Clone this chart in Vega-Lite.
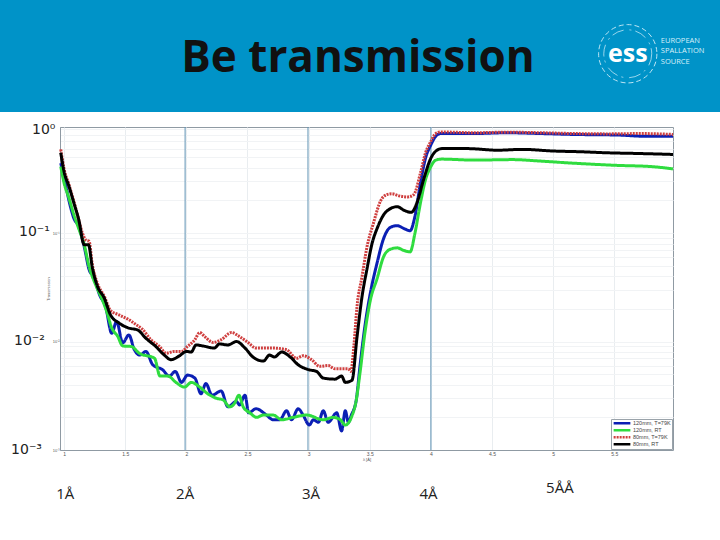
{
"$schema":"https://vega.github.io/schema/vega-lite/v6.json",
"width":613,"height":323,"autosize":"none",
"padding":{"left":60,"top":127,"right":47,"bottom":90},
"background":"#ffffff",
"config":{"view":{"stroke":"#8f9aa3","strokeWidth":1}},
"datasets":{
"curves":[
{"s":"120mm, T=79K","x":0.973,"y":0.44},{"s":"120mm, T=79K","x":1,"y":0.33},{"s":"120mm, T=79K","x":1.04,"y":0.2},{"s":"120mm, T=79K","x":1.08,"y":0.137},{"s":"120mm, T=79K","x":1.12,"y":0.115},{"s":"120mm, T=79K","x":1.165,"y":0.075},{"s":"120mm, T=79K","x":1.205,"y":0.046},{"s":"120mm, T=79K","x":1.245,"y":0.039},{"s":"120mm, T=79K","x":1.29,"y":0.027},{"s":"120mm, T=79K","x":1.34,"y":0.021},{"s":"120mm, T=79K","x":1.39,"y":0.0119},{"s":"120mm, T=79K","x":1.43,"y":0.0153},{"s":"120mm, T=79K","x":1.48,"y":0.0097},{"s":"120mm, T=79K","x":1.53,"y":0.0115},{"s":"120mm, T=79K","x":1.575,"y":0.0084},{"s":"120mm, T=79K","x":1.62,"y":0.0075},{"s":"120mm, T=79K","x":1.67,"y":0.0081},{"s":"120mm, T=79K","x":1.725,"y":0.0061},{"s":"120mm, T=79K","x":1.805,"y":0.0055},{"s":"120mm, T=79K","x":1.86,"y":0.0048},{"s":"120mm, T=79K","x":1.91,"y":0.0053},{"s":"120mm, T=79K","x":1.96,"y":0.0042},{"s":"120mm, T=79K","x":2.01,"y":0.0049},{"s":"120mm, T=79K","x":2.07,"y":0.0046},{"s":"120mm, T=79K","x":2.12,"y":0.0033},{"s":"120mm, T=79K","x":2.16,"y":0.0041},{"s":"120mm, T=79K","x":2.21,"y":0.0032},{"s":"120mm, T=79K","x":2.285,"y":0.0035},{"s":"120mm, T=79K","x":2.34,"y":0.0025},{"s":"120mm, T=79K","x":2.41,"y":0.0028},{"s":"120mm, T=79K","x":2.435,"y":0.0026},{"s":"120mm, T=79K","x":2.48,"y":0.0032},{"s":"120mm, T=79K","x":2.51,"y":0.0022},{"s":"120mm, T=79K","x":2.57,"y":0.0024},{"s":"120mm, T=79K","x":2.655,"y":0.0021},{"s":"120mm, T=79K","x":2.71,"y":0.0019},{"s":"120mm, T=79K","x":2.765,"y":0.0019},{"s":"120mm, T=79K","x":2.82,"y":0.0023},{"s":"120mm, T=79K","x":2.86,"y":0.0019},{"s":"120mm, T=79K","x":2.915,"y":0.0024},{"s":"120mm, T=79K","x":2.955,"y":0.0021},{"s":"120mm, T=79K","x":3.005,"y":0.0017},{"s":"120mm, T=79K","x":3.04,"y":0.0019},{"s":"120mm, T=79K","x":3.08,"y":0.0018},{"s":"120mm, T=79K","x":3.12,"y":0.0023},{"s":"120mm, T=79K","x":3.16,"y":0.0018},{"s":"120mm, T=79K","x":3.23,"y":0.0022},{"s":"120mm, T=79K","x":3.27,"y":0.0015},{"s":"120mm, T=79K","x":3.3,"y":0.0023},{"s":"120mm, T=79K","x":3.325,"y":0.0018},{"s":"120mm, T=79K","x":3.35,"y":0.0021},{"s":"120mm, T=79K","x":3.39,"y":0.0029},{"s":"120mm, T=79K","x":3.42,"y":0.0059},{"s":"120mm, T=79K","x":3.46,"y":0.0137},{"s":"120mm, T=79K","x":3.505,"y":0.028},{"s":"120mm, T=79K","x":3.56,"y":0.053},{"s":"120mm, T=79K","x":3.615,"y":0.09},{"s":"120mm, T=79K","x":3.67,"y":0.113},{"s":"120mm, T=79K","x":3.725,"y":0.117},{"s":"120mm, T=79K","x":3.78,"y":0.11},{"s":"120mm, T=79K","x":3.83,"y":0.105},{"s":"120mm, T=79K","x":3.87,"y":0.143},{"s":"120mm, T=79K","x":3.915,"y":0.29},{"s":"120mm, T=79K","x":3.956,"y":0.49},{"s":"120mm, T=79K","x":4,"y":0.65},{"s":"120mm, T=79K","x":4.04,"y":0.78},{"s":"120mm, T=79K","x":4.08,"y":0.826},{"s":"120mm, T=79K","x":4.35,"y":0.826},{"s":"120mm, T=79K","x":4.625,"y":0.84},{"s":"120mm, T=79K","x":4.9,"y":0.826},{"s":"120mm, T=79K","x":5.17,"y":0.81},{"s":"120mm, T=79K","x":5.53,"y":0.8},{"s":"120mm, T=79K","x":5.745,"y":0.78},{"s":"120mm, T=79K","x":5.98,"y":0.78},
{"s":"120mm, RT","x":0.973,"y":0.41},{"s":"120mm, RT","x":1,"y":0.29},{"s":"120mm, RT","x":1.04,"y":0.21},{"s":"120mm, RT","x":1.08,"y":0.148},{"s":"120mm, RT","x":1.12,"y":0.11},{"s":"120mm, RT","x":1.165,"y":0.078},{"s":"120mm, RT","x":1.205,"y":0.049},{"s":"120mm, RT","x":1.26,"y":0.033},{"s":"120mm, RT","x":1.315,"y":0.024},{"s":"120mm, RT","x":1.355,"y":0.018},{"s":"120mm, RT","x":1.385,"y":0.0138},{"s":"120mm, RT","x":1.44,"y":0.0111},{"s":"120mm, RT","x":1.48,"y":0.0091},{"s":"120mm, RT","x":1.55,"y":0.009},{"s":"120mm, RT","x":1.615,"y":0.0078},{"s":"120mm, RT","x":1.74,"y":0.007},{"s":"120mm, RT","x":1.785,"y":0.0048},{"s":"120mm, RT","x":1.85,"y":0.0048},{"s":"120mm, RT","x":1.915,"y":0.0042},{"s":"120mm, RT","x":1.985,"y":0.0038},{"s":"120mm, RT","x":2.04,"y":0.0042},{"s":"120mm, RT","x":2.11,"y":0.0038},{"s":"120mm, RT","x":2.175,"y":0.0033},{"s":"120mm, RT","x":2.245,"y":0.003},{"s":"120mm, RT","x":2.3,"y":0.0029},{"s":"120mm, RT","x":2.355,"y":0.0025},{"s":"120mm, RT","x":2.395,"y":0.0027},{"s":"120mm, RT","x":2.43,"y":0.0032},{"s":"120mm, RT","x":2.465,"y":0.0025},{"s":"120mm, RT","x":2.52,"y":0.0022},{"s":"120mm, RT","x":2.575,"y":0.002},{"s":"120mm, RT","x":2.63,"y":0.0021},{"s":"120mm, RT","x":2.71,"y":0.0021},{"s":"120mm, RT","x":2.78,"y":0.0019},{"s":"120mm, RT","x":2.875,"y":0.002},{"s":"120mm, RT","x":2.985,"y":0.0021},{"s":"120mm, RT","x":3.12,"y":0.0019},{"s":"120mm, RT","x":3.2,"y":0.002},{"s":"120mm, RT","x":3.26,"y":0.0019},{"s":"120mm, RT","x":3.3,"y":0.0017},{"s":"120mm, RT","x":3.35,"y":0.002},{"s":"120mm, RT","x":3.39,"y":0.0029},{"s":"120mm, RT","x":3.42,"y":0.0051},{"s":"120mm, RT","x":3.46,"y":0.0119},{"s":"120mm, RT","x":3.505,"y":0.024},{"s":"120mm, RT","x":3.56,"y":0.038},{"s":"120mm, RT","x":3.615,"y":0.061},{"s":"120mm, RT","x":3.67,"y":0.071},{"s":"120mm, RT","x":3.725,"y":0.073},{"s":"120mm, RT","x":3.78,"y":0.069},{"s":"120mm, RT","x":3.83,"y":0.067},{"s":"120mm, RT","x":3.87,"y":0.1},{"s":"120mm, RT","x":3.915,"y":0.19},{"s":"120mm, RT","x":3.956,"y":0.31},{"s":"120mm, RT","x":4,"y":0.41},{"s":"120mm, RT","x":4.04,"y":0.47},{"s":"120mm, RT","x":4.09,"y":0.48},{"s":"120mm, RT","x":4.35,"y":0.47},{"s":"120mm, RT","x":4.67,"y":0.475},{"s":"120mm, RT","x":4.9,"y":0.46},{"s":"120mm, RT","x":5.17,"y":0.44},{"s":"120mm, RT","x":5.53,"y":0.42},{"s":"120mm, RT","x":5.8,"y":0.41},{"s":"120mm, RT","x":5.98,"y":0.39},
{"s":"80mm, T=79K","x":0.973,"y":0.59},{"s":"80mm, T=79K","x":1,"y":0.39},{"s":"80mm, T=79K","x":1.04,"y":0.28},{"s":"80mm, T=79K","x":1.08,"y":0.196},{"s":"80mm, T=79K","x":1.12,"y":0.133},{"s":"80mm, T=79K","x":1.15,"y":0.1},{"s":"80mm, T=79K","x":1.18,"y":0.086},{"s":"80mm, T=79K","x":1.205,"y":0.084},{"s":"80mm, T=79K","x":1.23,"y":0.052},{"s":"80mm, T=79K","x":1.27,"y":0.035},{"s":"80mm, T=79K","x":1.33,"y":0.026},{"s":"80mm, T=79K","x":1.38,"y":0.0193},{"s":"80mm, T=79K","x":1.45,"y":0.0176},{"s":"80mm, T=79K","x":1.53,"y":0.0159},{"s":"80mm, T=79K","x":1.59,"y":0.0143},{"s":"80mm, T=79K","x":1.64,"y":0.013},{"s":"80mm, T=79K","x":1.71,"y":0.0104},{"s":"80mm, T=79K","x":1.78,"y":0.009},{"s":"80mm, T=79K","x":1.835,"y":0.0078},{"s":"80mm, T=79K","x":1.9,"y":0.0081},{"s":"80mm, T=79K","x":1.96,"y":0.0081},{"s":"80mm, T=79K","x":2.01,"y":0.009},{"s":"80mm, T=79K","x":2.07,"y":0.0104},{"s":"80mm, T=79K","x":2.11,"y":0.0121},{"s":"80mm, T=79K","x":2.15,"y":0.0111},{"s":"80mm, T=79K","x":2.22,"y":0.0098},{"s":"80mm, T=79K","x":2.285,"y":0.0104},{"s":"80mm, T=79K","x":2.37,"y":0.0121},{"s":"80mm, T=79K","x":2.435,"y":0.0111},{"s":"80mm, T=79K","x":2.505,"y":0.0098},{"s":"80mm, T=79K","x":2.57,"y":0.0087},{"s":"80mm, T=79K","x":2.71,"y":0.0087},{"s":"80mm, T=79K","x":2.82,"y":0.0084},{"s":"80mm, T=79K","x":2.9,"y":0.007},{"s":"80mm, T=79K","x":2.955,"y":0.0074},{"s":"80mm, T=79K","x":3.025,"y":0.0068},{"s":"80mm, T=79K","x":3.09,"y":0.0059},{"s":"80mm, T=79K","x":3.16,"y":0.006},{"s":"80mm, T=79K","x":3.215,"y":0.0056},{"s":"80mm, T=79K","x":3.325,"y":0.0056},{"s":"80mm, T=79K","x":3.345,"y":0.0053},{"s":"80mm, T=79K","x":3.37,"y":0.009},{"s":"80mm, T=79K","x":3.396,"y":0.021},{"s":"80mm, T=79K","x":3.437,"y":0.0397},{"s":"80mm, T=79K","x":3.478,"y":0.075},{"s":"80mm, T=79K","x":3.53,"y":0.123},{"s":"80mm, T=79K","x":3.587,"y":0.196},{"s":"80mm, T=79K","x":3.64,"y":0.226},{"s":"80mm, T=79K","x":3.68,"y":0.23},{"s":"80mm, T=79K","x":3.74,"y":0.22},{"s":"80mm, T=79K","x":3.81,"y":0.215},{"s":"80mm, T=79K","x":3.86,"y":0.226},{"s":"80mm, T=79K","x":3.915,"y":0.358},{"s":"80mm, T=79K","x":3.956,"y":0.547},{"s":"80mm, T=79K","x":4,"y":0.7},{"s":"80mm, T=79K","x":4.04,"y":0.826},{"s":"80mm, T=79K","x":4.08,"y":0.855},{"s":"80mm, T=79K","x":4.35,"y":0.84},{"s":"80mm, T=79K","x":4.625,"y":0.85},{"s":"80mm, T=79K","x":4.9,"y":0.84},{"s":"80mm, T=79K","x":5.17,"y":0.826},{"s":"80mm, T=79K","x":5.445,"y":0.82},{"s":"80mm, T=79K","x":5.72,"y":0.826},{"s":"80mm, T=79K","x":5.98,"y":0.81},
{"s":"80mm, RT","x":0.973,"y":0.55},{"s":"80mm, RT","x":1,"y":0.37},{"s":"80mm, RT","x":1.04,"y":0.27},{"s":"80mm, RT","x":1.08,"y":0.19},{"s":"80mm, RT","x":1.12,"y":0.133},{"s":"80mm, RT","x":1.165,"y":0.078},{"s":"80mm, RT","x":1.2,"y":0.078},{"s":"80mm, RT","x":1.23,"y":0.049},{"s":"80mm, RT","x":1.27,"y":0.033},{"s":"80mm, RT","x":1.33,"y":0.025},{"s":"80mm, RT","x":1.38,"y":0.0176},{"s":"80mm, RT","x":1.45,"y":0.0148},{"s":"80mm, RT","x":1.53,"y":0.0133},{"s":"80mm, RT","x":1.6,"y":0.0128},{"s":"80mm, RT","x":1.67,"y":0.0107},{"s":"80mm, RT","x":1.75,"y":0.009},{"s":"80mm, RT","x":1.82,"y":0.0075},{"s":"80mm, RT","x":1.875,"y":0.0068},{"s":"80mm, RT","x":1.945,"y":0.0074},{"s":"80mm, RT","x":2,"y":0.0081},{"s":"80mm, RT","x":2.04,"y":0.008},{"s":"80mm, RT","x":2.08,"y":0.0093},{"s":"80mm, RT","x":2.135,"y":0.0091},{"s":"80mm, RT","x":2.23,"y":0.0087},{"s":"80mm, RT","x":2.27,"y":0.0095},{"s":"80mm, RT","x":2.34,"y":0.0093},{"s":"80mm, RT","x":2.41,"y":0.01},{"s":"80mm, RT","x":2.48,"y":0.0087},{"s":"80mm, RT","x":2.545,"y":0.0072},{"s":"80mm, RT","x":2.63,"y":0.0066},{"s":"80mm, RT","x":2.68,"y":0.0075},{"s":"80mm, RT","x":2.72,"y":0.0072},{"s":"80mm, RT","x":2.78,"y":0.008},{"s":"80mm, RT","x":2.85,"y":0.0072},{"s":"80mm, RT","x":2.915,"y":0.0061},{"s":"80mm, RT","x":3,"y":0.0055},{"s":"80mm, RT","x":3.065,"y":0.0053},{"s":"80mm, RT","x":3.12,"y":0.0046},{"s":"80mm, RT","x":3.215,"y":0.0045},{"s":"80mm, RT","x":3.27,"y":0.0048},{"s":"80mm, RT","x":3.3,"y":0.0042},{"s":"80mm, RT","x":3.355,"y":0.0044},{"s":"80mm, RT","x":3.396,"y":0.011},{"s":"80mm, RT","x":3.437,"y":0.026},{"s":"80mm, RT","x":3.478,"y":0.047},{"s":"80mm, RT","x":3.52,"y":0.081},{"s":"80mm, RT","x":3.56,"y":0.11},{"s":"80mm, RT","x":3.615,"y":0.148},{"s":"80mm, RT","x":3.67,"y":0.168},{"s":"80mm, RT","x":3.725,"y":0.175},{"s":"80mm, RT","x":3.78,"y":0.162},{"s":"80mm, RT","x":3.84,"y":0.155},{"s":"80mm, RT","x":3.89,"y":0.196},{"s":"80mm, RT","x":3.94,"y":0.31},{"s":"80mm, RT","x":4,"y":0.49},{"s":"80mm, RT","x":4.05,"y":0.58},{"s":"80mm, RT","x":4.09,"y":0.6},{"s":"80mm, RT","x":4.3,"y":0.6},{"s":"80mm, RT","x":4.545,"y":0.58},{"s":"80mm, RT","x":4.75,"y":0.59},{"s":"80mm, RT","x":5,"y":0.57},{"s":"80mm, RT","x":5.25,"y":0.56},{"s":"80mm, RT","x":5.42,"y":0.55},{"s":"80mm, RT","x":5.72,"y":0.54},{"s":"80mm, RT","x":5.98,"y":0.53}
]},
"encoding":{
"x":{"field":"x","type":"quantitative",
"scale":{"domain":[0.967,5.98],"nice":false,"zero":false},
"axis":{"values":[1,1.5,2,2.5,3,3.5,4,4.5,5,5.5],"format":"~g","title":"λ [Å]","titleFontSize":4,"titleFontWeight":"normal","titleColor":"#555","titlePadding":1,"labelFontSize":5,"labelColor":"#555","labelPadding":1,"ticks":false,"domainColor":"#8f9aa3","grid":true,"gridColor":"#e9edf0","labelFlush":false}},
"y":{"field":"y","type":"quantitative",
"scale":{"type":"log","domain":[0.001,0.949],"nice":false},
"axis":{"values":[0.001,0.002,0.003,0.004,0.005,0.006,0.007,0.008,0.009,0.01,0.02,0.03,0.04,0.05,0.06,0.07,0.08,0.09,0.1,0.2,0.3,0.4,0.5,0.6,0.7,0.8,0.9],
"labelExpr":"datum.value==0.1?'10⁻¹':datum.value==0.01?'10⁻²':datum.value==0.001?'10⁻³':''",
"title":"Transmission","titleFontSize":4,"titleFontWeight":"normal","titleColor":"#555","titlePadding":2,"labelFontSize":4,"labelColor":"#555","labelPadding":1,"ticks":false,"domainColor":"#8f9aa3","grid":true,"gridColor":"#f1f3f5"}}
},
"layer":[
{"data":{"values":[{"x":0.4,"x2":6.5,"y":1.305,"y2":100}]},
 "mark":{"type":"rect","color":"#0093c8"},
 "encoding":{"x2":{"field":"x2"},"y2":{"field":"y2"}}},
{"data":{"values":[{"x":1.99,"y":0.001,"y2":0.949},{"x":2.995,"y":0.001,"y2":0.949},{"x":4,"y":0.001,"y2":0.949}]},
 "mark":{"type":"rule","color":"#5f93b4","strokeWidth":1},
 "encoding":{"y2":{"field":"y2"}}},
{"data":{"name":"curves"},
 "mark":{"type":"line","strokeWidth":3,"interpolate":"monotone"},
 "encoding":{
  "color":{"field":"s","type":"nominal","scale":{"domain":["120mm, T=79K","120mm, RT","80mm, T=79K","80mm, RT"],"range":["#0b1fb4","#2fdc3f","#cf3f3f","#000000"]},
   "legend":{"title":null,"orient":"bottom-right","offset":1,"fillColor":"#ffffff","strokeColor":"#9aa3aa","labelFontSize":5.5,"labelColor":"#444","symbolType":"stroke","symbolStrokeWidth":2.5,"symbolSize":280,"clipHeight":6.5,"rowPadding":0,"padding":1,"labelOffset":1,"symbolOpacity":1}},
  "strokeDash":{"field":"s","type":"nominal","scale":{"domain":["120mm, T=79K","120mm, RT","80mm, T=79K","80mm, RT"],"range":[[1,0],[1,0],[2,1],[1,0]]},"legend":{"title":null}}
 }},
{"data":{"values":[{"x":3.404,"y":4.02,"t":"Be transmission"}]},
 "mark":{"type":"text","font":"Open Sans","fontWeight":"bold","fontSize":44,"color":"#111111","align":"center","baseline":"middle"},
 "encoding":{"text":{"field":"t"}}},
{"data":{"values":[{"x":5.88,"y":5.92,"t":"EUROPEAN"},{"x":5.88,"y":4.73,"t":"SPALLATION"},{"x":5.88,"y":3.79,"t":"SOURCE"}]},
 "mark":{"type":"text","font":"Open Sans","fontSize":7.5,"color":"#d8f0fa","align":"left","baseline":"middle"},
 "encoding":{"text":{"field":"t"}}},
{"data":{"values":[{"x":5.61,"y":4.45,"t":"ess"}]},
 "mark":{"type":"text","font":"Open Sans","fontWeight":"bold","fontSize":25,"color":"#ffffff","align":"center","baseline":"middle"},
 "encoding":{"text":{"field":"t"}}},
{"data":{"values":[{"x":5.61,"y":4.49}]},
 "mark":{"type":"point","size":3400,"filled":false,"color":"#bfe6f5","strokeWidth":1,"strokeDash":[5,3],"opacity":1},
 "encoding":{}},
{"data":{"values":[{"x":5.61,"y":4.49}]},
 "mark":{"type":"point","size":2300,"filled":false,"color":"#bfe6f5","strokeWidth":0.8,"strokeDash":[12,6,2,4],"opacity":1},
 "encoding":{}},
{"data":{"values":[{"x":0.738,"y":0.893,"t":"10⁰"},{"x":0.632,"y":0.102,"t":"10⁻¹"},{"x":0.591,"y":0.0101,"t":"10⁻²"},{"x":0.567,"y":0.001,"t":"10⁻³"}]},
 "mark":{"type":"text","font":"DejaVu Sans","fontSize":14,"color":"#222222","align":"left","baseline":"middle"},
 "encoding":{"text":{"field":"t"}}},
{"data":{"values":[{"x":1.01,"y":0.000392,"t":"1Å"},{"x":1.99,"y":0.000392,"t":"2Å"},{"x":3.02,"y":0.000392,"t":"3Å"},{"x":3.98,"y":0.000392,"t":"4Å"},{"x":5.055,"y":0.000445,"t":"5ÅÅ"}]},
 "mark":{"type":"text","font":"Open Sans","fontSize":15,"color":"#222222","align":"center","baseline":"middle"},
 "encoding":{"text":{"field":"t"}}}
]
}
